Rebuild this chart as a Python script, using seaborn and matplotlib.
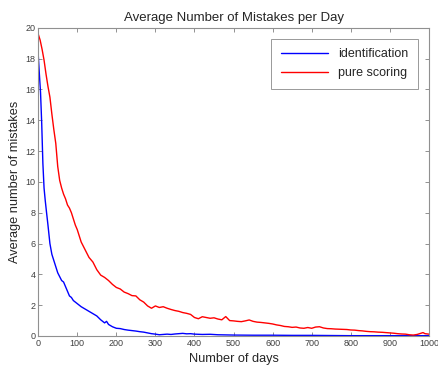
"""
Average Number of Mistakes per Day
----------------------------------
Identification vs. pure scoring, values read off the original figure.
"""

import pandas as pd
import seaborn as sns
import matplotlib.pyplot as plt

# identification (blue)
ident_days = [0, 3, 6, 9, 12, 15, 18, 21, 25, 30, 35, 40, 45, 50, 55, 60, 65, 70, 75,
              80, 85, 90, 100, 110, 120, 130, 140, 150, 160, 170, 175, 180, 190, 200,
              210, 220, 230, 240, 250, 260, 270, 280, 290, 300, 310, 320, 330, 340,
              350, 360, 370, 380, 390, 400, 420, 440, 460, 480, 500, 550, 600, 650,
              700, 750, 800, 900, 1000]
ident_mistakes = [18.3, 17.0, 15.8, 13.8, 11.2, 9.6, 8.8, 8.1, 7.2, 6.0, 5.3, 4.9, 4.5,
                  4.1, 3.85, 3.6, 3.5, 3.2, 2.9, 2.6, 2.5, 2.3, 2.1, 1.9, 1.75, 1.6,
                  1.45, 1.3, 1.05, 0.85, 0.95, 0.75, 0.6, 0.5, 0.48, 0.42, 0.38, 0.35,
                  0.32, 0.28, 0.25, 0.2, 0.15, 0.12, 0.08, 0.1, 0.12, 0.1, 0.13, 0.15,
                  0.17, 0.14, 0.15, 0.12, 0.1, 0.11, 0.08, 0.07, 0.06, 0.05, 0.05,
                  0.04, 0.04, 0.03, 0.02, 0.02, 0.02]

# pure scoring (red)
score_days = [0, 5, 10, 15, 20, 25, 30, 35, 40, 45, 50, 55, 60, 65, 70, 75, 80, 85, 90,
              95, 100, 110, 120, 130, 140, 150, 160, 170, 180, 190, 200, 210, 220, 230,
              240, 250, 260, 270, 280, 290, 300, 310, 320, 330, 340, 350, 360, 370,
              380, 390, 400, 410, 420, 430, 440, 450, 460, 470, 480, 490, 500, 510,
              520, 530, 540, 550, 560, 570, 580, 590, 600, 610, 620, 630, 640, 650,
              660, 670, 680, 690, 700, 710, 720, 730, 740, 750, 760, 770, 780, 790,
              800, 810, 820, 830, 840, 850, 860, 870, 880, 890, 900, 910, 920, 930,
              940, 950, 960, 970, 980, 985, 990, 1000]
score_mistakes = [19.6, 19.2, 18.6, 17.9, 17.0, 16.2, 15.5, 14.4, 13.4, 12.5, 11.0, 10.1,
                  9.6, 9.2, 8.9, 8.5, 8.3, 8.0, 7.6, 7.2, 6.9, 6.1, 5.6, 5.1, 4.8, 4.3,
                  3.95, 3.8, 3.6, 3.35, 3.15, 3.05, 2.85, 2.75, 2.62, 2.6, 2.35, 2.2,
                  1.95, 1.8, 1.95, 1.85, 1.9, 1.8, 1.72, 1.65, 1.6, 1.52, 1.47, 1.4,
                  1.2, 1.12, 1.25, 1.2, 1.15, 1.18, 1.1, 1.05, 1.26, 1.0, 0.98, 0.95,
                  0.93, 0.98, 1.04, 0.95, 0.9, 0.88, 0.85, 0.82, 0.78, 0.72, 0.68,
                  0.62, 0.6, 0.56, 0.58, 0.52, 0.5, 0.55, 0.5, 0.58, 0.6, 0.52, 0.48,
                  0.47, 0.45, 0.44, 0.43, 0.42, 0.39, 0.38, 0.35, 0.33, 0.3, 0.28,
                  0.27, 0.25, 0.24, 0.22, 0.2, 0.18, 0.15, 0.13, 0.12, 0.08, 0.06,
                  0.1, 0.18, 0.22, 0.15, 0.12]

x_ticks = list(range(0, 1001, 100))
y_ticks = list(range(0, 21, 2))

df = pd.concat([
    pd.DataFrame({'day': ident_days, 'mistakes': ident_mistakes, 'method': 'identification'}),
    pd.DataFrame({'day': score_days, 'mistakes': score_mistakes, 'method': 'pure scoring'}),
], ignore_index=True)

sns.set_style('white')
plt.rcParams['font.family'] = ['Liberation Sans', 'DejaVu Sans']

fig = plt.figure(figsize=(4.39, 3.66), dpi=100)
ax = fig.add_axes([0.087, 0.082, 0.890, 0.842])

sns.lineplot(data=df, x='day', y='mistakes', hue='method',
             palette={'identification': '#0000ff', 'pure scoring': '#ff0000'},
             linewidth=1.0, ax=ax)

ax.set_xlim(0, 1000)
ax.set_ylim(0, 20)
ax.set_xticks(x_ticks)
ax.set_yticks(y_ticks)
ax.tick_params(direction='in', length=3, width=0.6, colors='#808080',
               labelcolor='#404040', labelsize=6.5, top=True, right=True,
               bottom=True, left=True, pad=2)
for s in ax.spines.values():
    s.set_color('#909090')
    s.set_linewidth(0.8)

ax.set_title('Average Number of Mistakes per Day', fontsize=9.5, pad=5)
ax.set_xlabel('Number of days', fontsize=9.2, labelpad=3.5)
ax.set_ylabel('Average number of mistakes', fontsize=9.2, labelpad=3)

leg = ax.legend(loc='upper right', fontsize=9, handlelength=3.8, frameon=True,
                fancybox=False, edgecolor='#808080', borderaxespad=0.9,
                borderpad=0.75, labelspacing=0.55)
leg.get_frame().set_linewidth(0.7)

fig.savefig('out.png', dpi=100)
